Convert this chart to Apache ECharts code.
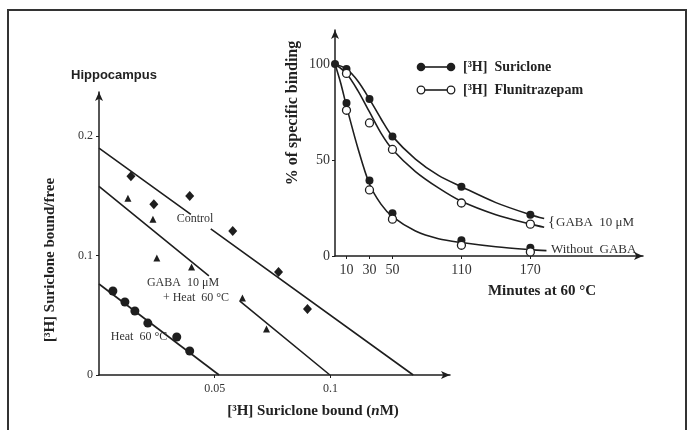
<!DOCTYPE html>
<html><head><meta charset="utf-8">
<script src="https://cdn.jsdelivr.net/npm/echarts@6/dist/echarts.min.js"></script>
<style>html,body{margin:0;padding:0;background:#fff}#c{width:689px;height:430px}</style>
</head><body><div id="c"></div>
<script>
// ---- Main chart (Scatchard plot, Hippocampus) ----
var controlPts = [[0.0138,0.1665],[0.0237,0.1431],[0.0392,0.1498],[0.0578,0.1205],[0.0776,0.0862],[0.0901,0.0552]];
var gabaHeatPts = [[0.0125,0.148],[0.0233,0.1305],[0.025,0.0979],[0.040,0.0904],[0.062,0.0644],[0.0724,0.0385]];
var heatPts = [[0.006,0.0703],[0.0112,0.0611],[0.0155,0.0536],[0.0211,0.0435],[0.0336,0.0318],[0.0392,0.0201]];
var controlLine = [[0,0.19],[0.0397,0.1345],null,[0.0483,0.1224],[0.1358,0]];
var gabaHeatLine = [[0,0.158],[0.0475,0.083],null,[0.0609,0.0618],[0.0998,0]];
var heatLine = [[0,0.0762],[0.0519,0]];
var mainYTicks = [0, 0.1, 0.2];
var mainXTicks = [0.05, 0.1];

// ---- Inset (time course at 60 °C) ----
var insetXTicks = [10, 30, 50, 110, 170];
var insetYTicks = [0, 50, 100];
var surGaba = [[0,100],[10,97.4],[30,81.7],[50,62.3],[110,36.1],[170,21.5]];
var fluGaba = [[10,95.1],[30,69.3],[50,55.5],[110,27.6],[170,16.6]];
var surNoGaba = [[10,79.7],[30,39.3],[50,22.2],[110,8.2],[170,4.3]];
var fluNoGaba = [[10,75.9],[30,34.4],[50,19.2],[110,5.6],[170,2.1]];
// fitted curves as drawn in the figure
var curveSurGaba = [[0,100],[10,97.4],[20,91],[30,81.7],[40,71.5],[50,62.3],[70,50.5],[90,42],[110,36.1],[140,27.8],[170,21.5],[182,19.5]];
var curveFluGaba = [[0,100],[10,95],[20,86],[30,75],[40,64],[50,55.5],[70,44],[90,35.5],[110,28.5],[140,21.5],[170,16.6],[182,15]];
var curveNoGaba = [[0,100],[5,90],[10,78],[20,56],[30,37.5],[40,27],[50,20.5],[70,13],[90,9],[110,7],[140,4.8],[170,3.3],[184,2.8]];

var INK = '#1e1e1e';
var SERIF = '"Liberation Serif","DejaVu Serif",serif';

function near(v, arr){ for (var i=0;i<arr.length;i++){ if (Math.abs(v-arr[i])<1e-6) return true; } return false; }

var chart = echarts.init(document.getElementById('c'), null, {renderer:'canvas'});
var lineSty = {color: INK, width: 1.6};

var option = {
  backgroundColor: '#fff',
  animation: false,
  grid: [
    {left: 99, top: 92, width: 351, height: 283},
    {left: 335, top: 30, width: 308, height: 226}
  ],
  xAxis: [
    {gridIndex:0, type:'value', min:0, max:0.1517,
     axisLine:{lineStyle:{color:INK,width:1.5}, symbol:['none','arrow'], symbolSize:[6,9]},
     axisTick:{show:true, length:3, customValues: mainXTicks, lineStyle:{color:INK}},
     splitLine:{show:false},
     axisLabel:{color:'#333', fontFamily:SERIF, fontSize:12, margin:8, customValues: mainXTicks,
       formatter:function(v){ return near(v,[0.05]) ? '0.05' : (near(v,[0.1]) ? '0.1' : ''); }}},
    {gridIndex:1, type:'value', min:0, max:268,
     axisLine:{lineStyle:{color:INK,width:1.5}, symbol:['none','arrow'], symbolSize:[6,9]},
     axisTick:{show:true, length:3, customValues: insetXTicks, lineStyle:{color:INK}},
     splitLine:{show:false},
     axisLabel:{color:'#333', fontFamily:SERIF, fontSize:14, margin:7, customValues: insetXTicks}}
  ],
  yAxis: [
    {gridIndex:0, type:'value', min:0, max:0.237,
     axisLine:{show:true, lineStyle:{color:INK,width:1.5}, symbol:['none','arrow'], symbolSize:[6,9]},
     axisTick:{show:true, length:3, customValues: mainYTicks, lineStyle:{color:INK}},
     splitLine:{show:false},
     axisLabel:{color:'#333', fontFamily:SERIF, fontSize:12, margin:6, customValues: mainYTicks,
       formatter:function(v){ if (v===0) return '0'; if (near(v,[0.1])) return '0.1'; if (near(v,[0.2])) return '0.2'; return ''; }}},
    {gridIndex:1, type:'value', min:0, max:117.7,
     axisLine:{show:true, lineStyle:{color:INK,width:1.5}, symbol:['none','arrow'], symbolSize:[6,9]},
     axisTick:{show:true, length:3, customValues: insetYTicks, lineStyle:{color:INK}},
     splitLine:{show:false},
     axisLabel:{color:'#333', fontFamily:SERIF, fontSize:14, margin:5, customValues: insetYTicks}}
  ],
  series: [
    {type:'line', xAxisIndex:0, yAxisIndex:0, data:controlLine, showSymbol:false, connectNulls:false, lineStyle:lineSty, z:2},
    {type:'line', xAxisIndex:0, yAxisIndex:0, data:gabaHeatLine, showSymbol:false, connectNulls:false, lineStyle:lineSty, z:2},
    {type:'line', xAxisIndex:0, yAxisIndex:0, data:heatLine, showSymbol:false, lineStyle:lineSty, z:2},
    {type:'scatter', xAxisIndex:0, yAxisIndex:0, data:controlPts, symbol:'diamond', symbolSize:[9,10], itemStyle:{color:INK, opacity:1}, z:3},
    {type:'scatter', xAxisIndex:0, yAxisIndex:0, data:gabaHeatPts, symbol:'triangle', symbolSize:7, itemStyle:{color:INK, opacity:1}, z:3},
    {type:'scatter', xAxisIndex:0, yAxisIndex:0, data:heatPts, symbol:'circle', symbolSize:9, itemStyle:{color:INK, opacity:1}, z:3},
    {type:'line', xAxisIndex:1, yAxisIndex:1, data:curveSurGaba, smooth:0.3, showSymbol:false, lineStyle:lineSty, z:2},
    {type:'line', xAxisIndex:1, yAxisIndex:1, data:curveFluGaba, smooth:0.3, showSymbol:false, lineStyle:lineSty, z:2},
    {type:'line', xAxisIndex:1, yAxisIndex:1, data:curveNoGaba, smooth:0.3, showSymbol:false, lineStyle:lineSty, z:2},
    {type:'scatter', xAxisIndex:1, yAxisIndex:1, data:surGaba, symbol:'circle', symbolSize:8, itemStyle:{color:INK, opacity:1}, z:4},
    {type:'scatter', xAxisIndex:1, yAxisIndex:1, data:surNoGaba, symbol:'circle', symbolSize:8, itemStyle:{color:INK, opacity:1}, z:4},
    {type:'scatter', xAxisIndex:1, yAxisIndex:1, data:fluGaba, symbol:'circle', symbolSize:8, itemStyle:{color:'#fff', borderColor:INK, borderWidth:1.3, opacity:1}, z:5},
    {type:'scatter', xAxisIndex:1, yAxisIndex:1, data:fluNoGaba, symbol:'circle', symbolSize:8, itemStyle:{color:'#fff', borderColor:INK, borderWidth:1.3, opacity:1}, z:5}
  ],
  graphic: [
    {type:'polyline', shape:{points:[[8,440],[8,10],[686,10],[686,440]]}, style:{stroke:'#333', lineWidth:2, fill:null}, z:10},
    {type:'text', x:114, y:75, style:{text:'Hippocampus', align:'center', verticalAlign:'middle', font:'bold 13px "Liberation Sans", sans-serif', fill:'#222'}},
    {type:'text', x:50, y:260, rotation:Math.PI/2, style:{text:'[³H] Suriclone bound/free', align:'center', verticalAlign:'middle', font:'bold 15px ' + SERIF, fill:'#222'}},
    {type:'text', x:313, y:411, style:{
      text:'{b|[³H] Suriclone bound (}{i|n}{b|M)}', align:'center', verticalAlign:'middle',
      rich:{b:{font:'bold 15px ' + SERIF, fill:'#222'}, i:{font:'italic bold 15px ' + SERIF, fill:'#222'}}}},
    {type:'text', x:293, y:113, rotation:Math.PI/2, style:{text:'% of specific binding', align:'center', verticalAlign:'middle', font:'bold 16px ' + SERIF, fill:'#222'}},
    {type:'text', x:542, y:291, style:{text:'Minutes at 60 °C', align:'center', verticalAlign:'middle', font:'bold 15px ' + SERIF, fill:'#222'}},
    {type:'text', x:195, y:219, style:{text:'Control', align:'center', verticalAlign:'middle', font:'12px ' + SERIF, fill:'#333'}},
    {type:'text', x:183, y:283, style:{text:'GABA  10 μM', align:'center', verticalAlign:'middle', font:'12px ' + SERIF, fill:'#333'}},
    {type:'text', x:196, y:298, style:{text:'+ Heat  60 °C', align:'center', verticalAlign:'middle', font:'12px ' + SERIF, fill:'#333'}},
    {type:'text', x:139, y:337, style:{text:'Heat  60 °C', align:'center', verticalAlign:'middle', font:'12px ' + SERIF, fill:'#333'}},
    {type:'text', x:548, y:222, style:{text:'{', align:'left', verticalAlign:'middle', font:'15px ' + SERIF, fill:'#333'}},
    {type:'text', x:556, y:223, style:{text:'GABA  10 μM', align:'left', verticalAlign:'middle', font:'13px ' + SERIF, fill:'#333'}},
    {type:'text', x:551, y:250, style:{text:'Without  GABA', align:'left', verticalAlign:'middle', font:'13px ' + SERIF, fill:'#333'}},
    {type:'line', shape:{x1:421, y1:67, x2:451, y2:67}, style:{stroke:INK, lineWidth:1.6}},
    {type:'circle', shape:{cx:421, cy:67, r:4.3}, style:{fill:INK}},
    {type:'circle', shape:{cx:451, cy:67, r:4.3}, style:{fill:INK}},
    {type:'text', x:463, y:67, style:{text:'[³H]  Suriclone', align:'left', verticalAlign:'middle', font:'bold 14px ' + SERIF, fill:'#222'}},
    {type:'line', shape:{x1:421, y1:90, x2:451, y2:90}, style:{stroke:INK, lineWidth:1.6}},
    {type:'circle', shape:{cx:421, cy:90, r:3.8}, style:{fill:'#fff', stroke:INK, lineWidth:1.3}},
    {type:'circle', shape:{cx:451, cy:90, r:3.8}, style:{fill:'#fff', stroke:INK, lineWidth:1.3}},
    {type:'text', x:463, y:90, style:{text:'[³H]  Flunitrazepam', align:'left', verticalAlign:'middle', font:'bold 14px ' + SERIF, fill:'#222'}}
  ]
};
chart.setOption(option);
</script>
</body></html>
